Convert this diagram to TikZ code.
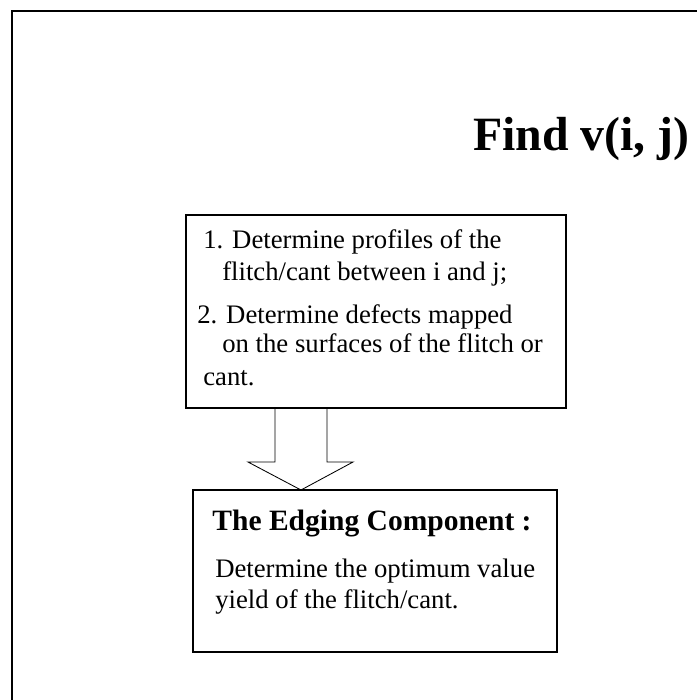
\documentclass[tikz,border=0pt]{standalone}
\usepackage{fontspec}
\setmainfont{Liberation Serif}
\usepackage{tikz}
\usetikzlibrary{calc}

\begin{document}
\begin{tikzpicture}[
  x=0.025cm,y=-0.025cm,
  frame/.style={draw=black,line width=1.4pt},
  stepbox/.style={draw=black,line width=0.8pt},
  txt/.style={anchor=base west,inner sep=0pt,font=\fontsize{19}{23}\selectfont},
  hollow/.style={draw=black,line width=0.6pt,line join=miter}
]
\useasboundingbox (0,0) rectangle (697,700);
% outer frame, cut by the page on the right and bottom
\draw[frame] (12,700) -- (12,11) -- (697,11);
\node[anchor=base east,inner sep=0pt,font=\fontsize{34}{38}\selectfont\bfseries]
  (title) at (690,150) {Find v(i, j)};

% upper box
\draw[stepbox] (186,215) rectangle (566,408);
\node[txt] (s1) at (203,248) {1. Determine profiles of the};
\node[txt] (s1b) at (222,280) {flitch/cant between i and j;};
\node[txt] (s2) at (197,323) {2. Determine defects mapped};
\node[txt] (s2b) at (222,352) {on the surfaces of the flitch or};
\node[txt] (s2c) at (203,385) {cant.};

% hollow arrow
\coordinate (tail) at (301,408);
\coordinate (tip) at (301,490);
\draw[hollow] (tail) ++(-26,0) -- ++(0,54) -- ++(-27,0) -- (tip)
  -- ++(52,-28) -- ++(-26,0) -- ++(0,-54);

% lower box
\draw[stepbox] (193,490) rectangle (557,652);
\node[anchor=base,inner sep=0pt,font=\fontsize{21}{25}\selectfont\bfseries]
  (edging) at (372,530) {The Edging Component :};
\node[txt] (e1) at (215,577) {Determine the optimum value};
\node[txt] (e2) at (215,608) {yield of the flitch/cant.};
\end{tikzpicture}
\end{document}
